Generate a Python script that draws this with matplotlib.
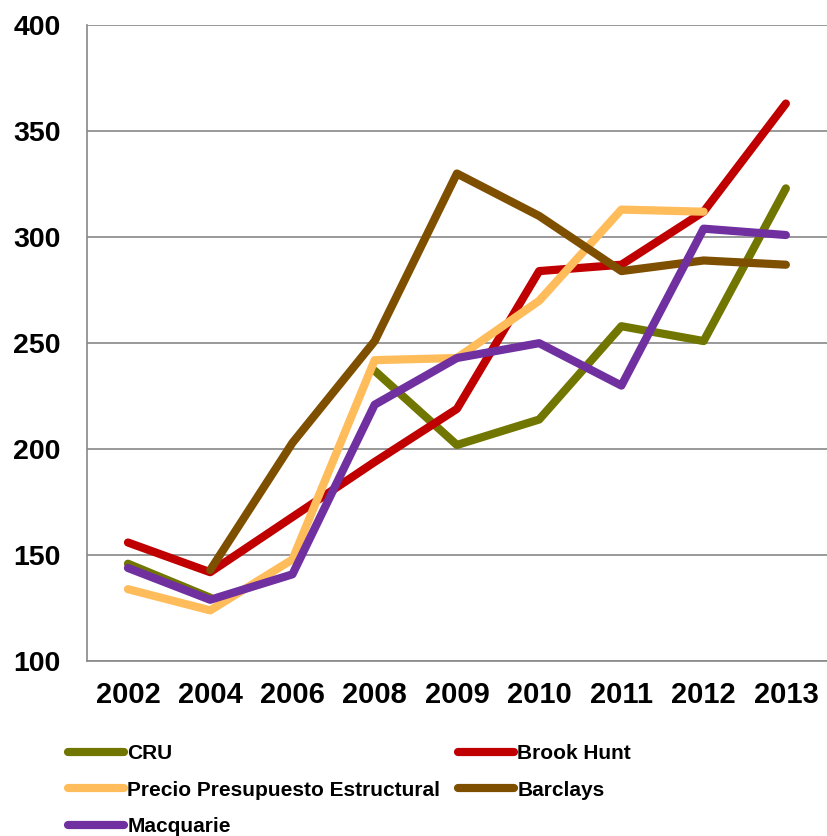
import numpy as np
import matplotlib
matplotlib.use("Agg")
import matplotlib.pyplot as plt

years = ["2002", "2004", "2006", "2008", "2009", "2010", "2011", "2012", "2013"]
nan = np.nan
cru = [146, 130, nan, 237, 202, 214, 258, 251, 323]
brook_hunt = [156, 142, 168, 194, 219, 284, 287, 312, 363]
precio = [134, 124, 148, 242, 243, 270, 313, 312, nan]
barclays = [nan, 143, 203, 251, 330, 310, 284, 289, 287]
macquarie = [144, 129, 141, 221, 243, 250, 230, 304, 301]

names = ["CRU", "Brook Hunt", "Precio Presupuesto Estructural", "Barclays", "Macquarie"]
colors = ["#717600", "#C00000", "#FFBC5A", "#7F4F00", "#7030A0"]

plt.rcParams["font.family"] = ["Liberation Sans", "DejaVu Sans"]
plt.rcParams["font.weight"] = "bold"

fig = plt.figure(figsize=(8.27, 8.36), dpi=100)
ax = fig.add_axes([0.105, 0.209, 0.895, 0.761])

x = np.arange(len(years))
lines = []
for vals, name, col in zip([cru, brook_hunt, precio, barclays, macquarie], names, colors):
    ln, = ax.plot(x, vals, color=col, lw=5.9, label=name,
                  solid_capstyle="round", solid_joinstyle="round", zorder=3)
    lines.append(ln)

ax.set_xlim(-0.5, len(years) - 0.5)
ax.set_ylim(100, 400)
ax.set_yticks(range(100, 401, 50))
ax.set_xticks(x)
ax.set_xticklabels(years)
ax.tick_params(axis="y", length=0, pad=19, labelsize=20.5)
ax.tick_params(axis="x", length=0, pad=14, labelsize=21)

ax.grid(axis="y", color="#888888", lw=1.2, zorder=1)
for s in ["top", "right"]:
    ax.spines[s].set_visible(False)
ax.spines["left"].set_color("#888888")
ax.spines["bottom"].set_color("#888888")
ax.spines["left"].set_linewidth(1.2)
ax.spines["bottom"].set_linewidth(1.2)

# column-major order so the legend reads row by row
order = [0, 2, 4, 1, 3]
fig.legend([lines[i] for i in order], [names[i] for i in order],
           loc="upper left", bbox_to_anchor=(0.082, 0.110), ncol=2,
           frameon=False, fontsize=15, handlelength=2.7, handletextpad=0.15,
           columnspacing=0.85, labelspacing=0.85, borderaxespad=0, borderpad=0)

fig.savefig("out.png", dpi=100)
